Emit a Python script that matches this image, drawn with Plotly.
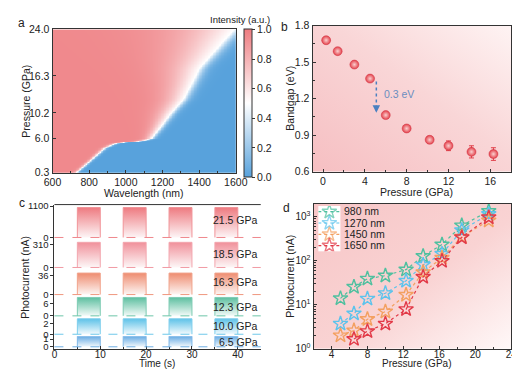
import base64
import numpy as np
import plotly.graph_objects as go

W, H = 520, 369
def X(px): return px / W
def Y(py): return 1 - py / H

FONT = "Arial, Liberation Sans, Helvetica, sans-serif"
AX = "#333333"

# ---------------- Panel a data (absorption edge map) ----------------
edge_pressure = [0.3, 2.3, 4.4, 5.2, 5.5, 5.9, 7.9, 10.0, 12.4, 14.8, 17.5, 19.3, 21.7, 24.0]
edge_wavelength = [729, 808, 886, 947, 1070, 1139, 1191, 1243, 1313, 1356, 1400, 1452, 1522, 1591]
red_fade_nm = [15, 15, 18, 22, 28, 35, 55, 80, 110, 140, 180, 220, 270, 320]
blue_fade_nm = [12, 12, 14, 16, 18, 20, 25, 30, 35, 40, 45, 50, 55, 60]
a_ytick = [0.3, 6.0, 10.2, 16.3, 24.0]
a_xtick = [600, 800, 1000, 1200, 1400, 1600]

wl = np.arange(600, 1601, 4)
pr = np.arange(0.3, 24.05, 0.1)
WL, PR = np.meshgrid(wl, pr)
E = np.interp(PR, edge_pressure, edge_wavelength)
WR = np.interp(PR, edge_pressure, red_fade_nm)
WB = np.interp(PR, edge_pressure, blue_fade_nm)
d = E - WL
Z = np.where(d >= 0, 0.5 + 0.45 * np.tanh(d / WR), 0.5 - 0.5 * np.tanh(-d / WB))

# ---------------- Panel b data ----------------
b_pressure = [0.3, 1.4, 3.0, 4.5, 6.0, 8.0, 10.2, 12.0, 14.2, 16.3]
b_bandgap = [1.68, 1.59, 1.48, 1.365, 1.065, 0.955, 0.862, 0.813, 0.763, 0.745]
b_err = [0.02, 0.02, 0.02, 0.02, 0.022, 0.025, 0.028, 0.04, 0.05, 0.052]

# ---------------- Panel c data ----------------
c_labels = ["21.5 GPa", "18.5 GPa", "16.3 GPa", "12.3 GPa", "10.0 GPa", "6.5 GPa"]
c_on_current = [1049, 336, 40, 8.8, 2.9, 1.45]
c_ticks = [1100, 310, 36, 6, 2, 1]
c_colors = ["#EE7A80", "#F0909A", "#EE8C70", "#5DBFA0", "#5EC2E8", "#5EA6E2"]
on_start = [5, 15, 25, 35]
on_end = [10, 20, 30, 40]
t_end = 45

# ---------------- Panel d data ----------------
d_pressure = [5.0, 6.5, 8.0, 10.0, 12.3, 14.2, 16.3, 18.5, 21.5]
d_names = ["980 nm", "1270 nm", "1450 nm", "1650 nm"]
d_values = {
    "980 nm": [14, 25.5, 39, 46, 63, 128, 234, 634, 1350],
    "1270 nm": [3.7, 6.3, 13.7, 18.3, 35, 81, 144, 495, 1150],
    "1450 nm": [2.0, 2.6, 4.7, 7.0, 16.8, 55, 117, 352, 820],
    "1650 nm": [None, 1.66, 2.5, 3.7, 7.9, 43, 99, 340, 970],
}
d_colors = ["#4FC09F", "#5CC3EC", "#F3A060", "#E23A48"]

fig = go.Figure()
layout = dict(width=W, height=H, margin=dict(l=0, r=0, t=0, b=0),
              plot_bgcolor="white", paper_bgcolor="white", showlegend=False,
              font=dict(family=FONT, size=10.5, color="#222"))

# ---- panel a ----
fig.add_trace(go.Heatmap(
    x=wl, y=pr, z=Z, zmin=0, zmax=1, xaxis="x", yaxis="y",
    colorscale=[[0, "#58A2DC"], [0.5, "#FFFFFF"], [1, "#EE7C80"]],
    hoverinfo="skip",
    colorbar=dict(x=X(237), xanchor="left", y=Y(16), yanchor="top",
                  len=148, lenmode="pixels", thickness=8, xpad=0, ypad=0,
                  outlinewidth=1, outlinecolor=AX,
                  tickvals=[0, 0.2, 0.4, 0.6, 0.8, 1.0], tickformat=".1f",
                  ticks="outside", ticklen=3, tickcolor=AX,
                  tickfont=dict(size=10.5))))
layout["xaxis"] = dict(domain=[X(37), X(228)], range=[600, 1600], tickvals=a_xtick,
                       showline=True, mirror=True, linecolor=AX, linewidth=1,
                       ticks="inside", ticklen=3, tickcolor=AX, showgrid=False, zeroline=False,
                       minor=dict(ticks="inside", ticklen=2, dtick=100, tickcolor=AX),
                       anchor="y")
layout["yaxis"] = dict(domain=[Y(164), Y(16)], range=[0.3, 24.0], tickvals=a_ytick, tickformat=".1f",
                       showline=True, mirror=True, linecolor=AX, linewidth=1,
                       ticks="inside", ticklen=3, tickcolor=AX, showgrid=False, zeroline=False,
                       anchor="x")

# ---- panel b ----
def grad_svg(x1, y1, x2, y2, stops):
    s = "".join(f"<stop offset='{o}' stop-color='{c}'/>" for o, c in stops)
    svg = ("<svg xmlns='http://www.w3.org/2000/svg' width='100' height='100' viewBox='0 0 100 100' "
           "preserveAspectRatio='none'><defs><linearGradient id='g' x1='%s' y1='%s' x2='%s' y2='%s'>%s"
           "</linearGradient></defs><rect width='100' height='100' fill='url(#g)'/></svg>") % (x1, y1, x2, y2, s)
    return "data:image/svg+xml;base64," + base64.b64encode(svg.encode()).decode()

images = []
images.append(dict(source=grad_svg(0, 1, 1, 0, [(0, "#F6BFC2"), (0.55, "#F9D6D7"), (1, "#FEF3F3")]),
                   xref="x2 domain", yref="y2 domain", x=0, y=1, sizex=1, sizey=1,
                   sizing="stretch", layer="below", xanchor="left", yanchor="top"))

fig.add_trace(go.Scatter(
    x=b_pressure, y=b_bandgap, mode="markers", xaxis="x2", yaxis="y2",
    error_y=dict(type="data", array=b_err, color="#E0404A", thickness=1, width=2.5),
    marker=dict(size=9, color="#E3404A", line=dict(color="#D03040", width=0.5),
                gradient=dict(type="radial", color="#FBD0D0"))))
layout["xaxis2"] = dict(domain=[X(308), X(515)], range=[-1, 18], tickvals=[0, 4, 8, 12, 16],
                        showline=True, mirror=True, linecolor=AX, linewidth=1,
                        ticks="inside", ticklen=3, tickcolor=AX, showgrid=False, zeroline=False,
                        minor=dict(ticks="inside", ticklen=2, dtick=2, tickcolor=AX), anchor="y2")
layout["yaxis2"] = dict(domain=[Y(163), Y(12)], range=[0.6, 1.8], tickvals=[0.6, 0.9, 1.2, 1.5, 1.8],
                        tickformat=".1f",
                        showline=True, mirror=True, linecolor=AX, linewidth=1,
                        ticks="inside", ticklen=3, tickcolor=AX, showgrid=False, zeroline=False,
                        minor=dict(ticks="inside", ticklen=2, dtick=0.15, tickcolor=AX), anchor="x2")

shapes = []
shapes.append(dict(type="line", xref="x2", yref="y2", x0=5.1, x1=5.1, y0=1.34, y1=1.13,
                   line=dict(color="#4A80C0", width=1.5, dash="dot")))

annotations = []
annotations.append(dict(x=5.1, y=1.085, ax=5.1, ay=1.13, xref="x2", yref="y2", axref="x2", ayref="y2",
                        showarrow=True, arrowhead=2, arrowsize=1, arrowwidth=1.5, arrowcolor="#4A80C0",
                        text=" ", font=dict(size=1)))
annotations.append(dict(x=5.65, y=1.24, xref="x2", yref="y2", text="0.3 eV", showarrow=False,
                        xanchor="left", font=dict(size=10.5, color="#6A8EC0")))

# ---- panel c ----
c_dom = [(197, 233), (233, 265), (265, 292), (292, 314), (314, 333), (333, 346)]
c_zero = [231, 262, 290, 312, 331, 344]
c_tickpx = [198.5, 238, 270, 299, 320, 336]
c_labpx = [213, 248, 276.5, 302.5, 322.5, 339]

t_sig = [0]
for s_, e_ in zip(on_start, on_end):
    t_sig += [s_, s_, e_, e_]
t_sig += [t_end]

def lighten(hexc, f):
    h = hexc.lstrip("#")
    r, g, b = int(h[0:2], 16), int(h[2:4], 16), int(h[4:6], 16)
    return "rgb(%d,%d,%d)" % (r + (255 - r) * f, g + (255 - g) * f, b + (255 - b) * f)

for i in range(6):
    k = i + 3
    xa, ya = f"x{k}", f"y{k}"
    top, bot = c_dom[i]
    sc = c_ticks[i] / (c_zero[i] - c_tickpx[i])
    rng = [-(bot - c_zero[i]) * sc, (c_zero[i] - top) * sc]
    v = c_on_current[i]
    y_sig = [0]
    for _ in on_start:
        y_sig += [0, v, v, 0]
    y_sig += [0]
    fig.add_trace(go.Scatter(x=t_sig, y=y_sig, mode="lines", xaxis=xa, yaxis=ya,
                             line=dict(width=0, color=c_colors[i]), fill="tozeroy",
                             fillgradient=dict(type="vertical",
                                               colorscale=[[0, lighten(c_colors[i], 0.93)], [1, c_colors[i]]]),
                             hoverinfo="skip"))
    px_, py_ = [], []
    for s_, e_ in zip(on_start, on_end):
        px_ += [s_, s_, e_, e_, None]
        py_ += [0, v, v, 0, None]
    fig.add_trace(go.Scatter(x=px_, y=py_, mode="lines", xaxis=xa, yaxis=ya,
                             line=dict(width=1, color=lighten(c_colors[i], 0.2)), hoverinfo="skip"))
    shapes.append(dict(type="line", xref=f"{xa} domain", yref=ya, x0=0, x1=1, y0=0, y1=0,
                       line=dict(color=lighten(c_colors[i], 0.1), width=1, dash="dash"), layer="above"))
    xkey = f"xaxis{k}"
    ykey = f"yaxis{k}"
    last = (i == 5)
    layout[xkey] = dict(domain=[X(39), X(254)], range=[0, 45], anchor=ya,
                        showticklabels=last, showline=last, linecolor=AX, linewidth=1,
                        ticks="inside" if last else "", ticklen=3, tickcolor=AX,
                        tickvals=[0, 10, 20, 30, 40], showgrid=False, zeroline=False,
                        tickfont=dict(size=10), ticklabelstandoff=-4,
                        minor=dict(ticks="inside" if last else "", ticklen=2, dtick=5, tickcolor=AX))
    if not last:
        layout[xkey]["matches"] = "x8"
    layout[ykey] = dict(domain=[Y(bot), Y(top)], range=rng, anchor=xa,
                        tickvals=[0, c_ticks[i]], showline=True, linecolor=AX, linewidth=1,
                        ticks="outside", ticklen=3, tickcolor=AX, showgrid=False, zeroline=False,
                        tickfont=dict(size=9.5))
    annotations.append(dict(x=X(253), y=Y(c_labpx[i]), xref="paper", yref="paper", text=c_labels[i],
                            showarrow=False, xanchor="right", yanchor="middle", font=dict(size=10.5)))

shapes.append(dict(type="line", xref="paper", yref="paper", x0=X(39), x1=X(254), y0=Y(197), y1=Y(197),
                   line=dict(color=AX, width=1)))

# ---- panel d ----
images.append(dict(source=grad_svg(0, 0, 1, 1, [(0, "#F7C6C7"), (0.55, "#F9D3D3"), (1, "#FFF8F8")]),
                   xref="x9 domain", yref="y9 domain", x=0, y=1, sizex=1, sizey=1,
                   sizing="stretch", layer="below", xanchor="left", yanchor="top"))
for name, col in zip(d_names, d_colors):
    fig.add_trace(go.Scatter(x=d_pressure, y=d_values[name], mode="lines+markers", xaxis="x9", yaxis="y9",
                             name=name, connectgaps=False,
                             line=dict(color=col, width=1.2, dash="dot"),
                             marker=dict(symbol="star-open", size=11, color=col, line=dict(width=1.4, color=col))))
layout["xaxis9"] = dict(domain=[X(309), X(515)], range=[2, 24], tickvals=[4, 8, 12, 16, 20, 24],
                        showline=True, mirror=True, linecolor=AX, linewidth=1,
                        ticks="inside", ticklen=3, tickcolor=AX, showgrid=False, zeroline=False,
                        tickfont=dict(size=10), ticklabelstandoff=-4,
                        minor=dict(ticks="inside", ticklen=2, dtick=2, tickcolor=AX), anchor="y9")
layout["yaxis9"] = dict(domain=[Y(346), Y(196)], type="log", range=[0, 3.3],
                        tickvals=[1, 10, 100, 1000],
                        ticktext=["10<sup>0</sup>", "10<sup>1</sup>", "10<sup>2</sup>", "10<sup>3</sup>"],
                        showline=True, mirror=True, linecolor=AX, linewidth=1,
                        ticks="inside", ticklen=3, tickcolor=AX, showgrid=False, zeroline=False,
                        tickfont=dict(size=10),
                        minor=dict(ticks="inside", ticklen=2, tickcolor=AX,
                                   tickvals=[m * 10 ** e for e in range(0, 4) for m in range(2, 10)]),
                        anchor="x9")

# legend for panel d (key samples on a small hidden axis)
for j, (name, col) in enumerate(zip(d_names, d_colors)):
    fig.add_trace(go.Scatter(x=[0, 1, 2], y=[j, j, j], mode="lines+markers", xaxis="x10", yaxis="y10",
                             line=dict(color=col, width=1.2, dash="dot"),
                             marker=dict(symbol="star-open", size=[0, 11, 0], color=col,
                                         line=dict(width=1.4, color=col)), hoverinfo="skip"))
    annotations.append(dict(x=X(339), y=Y(204 + 11.7 * j), xref="paper", yref="paper", text=name,
                            showarrow=False, xanchor="left", yanchor="middle", font=dict(size=10.5)))
layout["xaxis10"] = dict(domain=[X(314), X(337)], range=[0, 2], visible=False, anchor="y10")
layout["yaxis10"] = dict(domain=[Y(245.3), Y(198.5)], range=[3.5, -0.5], visible=False, anchor="x10")

# ---- titles and panel letters ----
def txt(x, y, s, size=10.5, angle=0):
    annotations.append(dict(x=X(x), y=Y(y), xref="paper", yref="paper", text=s, showarrow=False,
                            textangle=angle, font=dict(size=size), xanchor="center", yanchor="middle"))

txt(132, 185, "Wavelength (nm)")
txt(9, 90, "Pressure (GPa)", angle=-90)
txt(232, 6, "Intensity (a.u.)", size=9.5)
txt(416, 184, "Pressure (GPa)")
txt(285, 87, "Bandgap (eV)", angle=-90)
txt(146, 361.5, "Time (s)", size=10)
txt(9, 272, "Photocurrent (nA)", angle=-90)
txt(416, 361.5, "Pressure (GPa)", size=10)
txt(285, 271, "Photocurrent (nA)", angle=-90)
txt(5, 9, "a", size=12)
txt(279, 13, "b", size=12)
txt(5, 195, "c", size=12)
txt(281, 201, "d", size=12)

layout["shapes"] = shapes
layout["annotations"] = annotations
layout["images"] = images
fig.update_layout(**layout)
fig.write_html("out.html")
